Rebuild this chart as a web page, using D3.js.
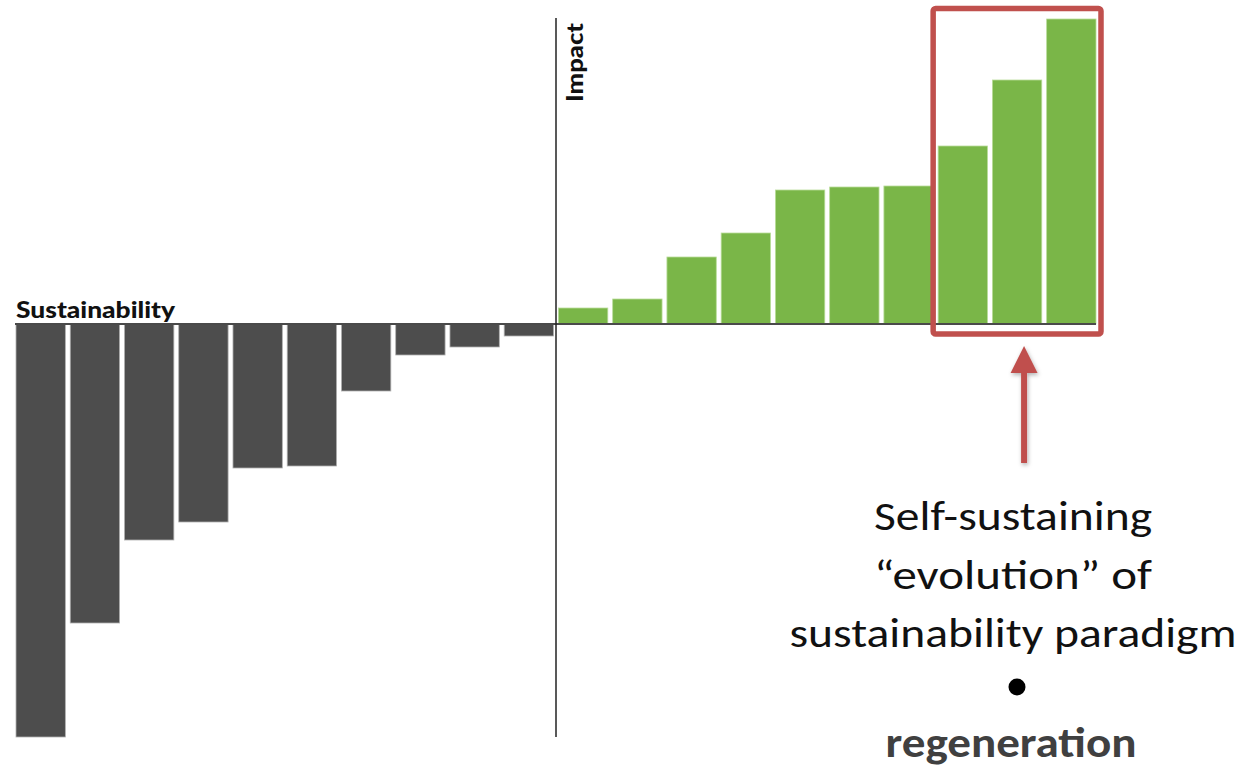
<!DOCTYPE html>
<html>
<head>
<meta charset="utf-8">
<script src="https://cdn.jsdelivr.net/npm/d3@7"></script>
<style>
  html, body { margin: 0; padding: 0; background: #ffffff; }
  svg { display: block; }
</style>
</head>
<body>
<svg id="chart" width="1250" height="768"></svg>
<script>
// ---- data ----
const negCategories = ["S1","S2","S3","S4","S5","S6","S7","S8","S9","S10"];
const negValues = [-41.3, -29.9, -21.6, -19.8, -14.4, -14.2, -6.7, -3.1, -2.3, -1.2];
const posCategories = ["I1","I2","I3","I4","I5","I6","I7","I8","I9","I10"];
const posValues = [1.6, 2.5, 6.7, 9.1, 13.4, 13.7, 13.8, 17.8, 24.4, 30.5];
const highlighted = ["I8","I9","I10"];
const xAxisLabel = "Sustainability";
const yAxisLabel = "Impact";
const noteLines = ["Self-sustaining", "\u201cevolution\u201d of", "sustainability paradigm"];
const noteKeyword = "regeneration";

// ---- chart ----
const svg = d3.select("#chart");
const allCats = negCategories.concat(posCategories);
const allVals = negValues.concat(posValues);

const x = d3.scaleBand().domain(allCats).range([16, 1096]).paddingInner(0.09).paddingOuter(0);
const y = d3.scaleLinear().domain([-41.3, 30.5]).range([737, 19]);

const data = allCats.map((c, i) => ({cat: c, v: allVals[i]}));

svg.append("g").selectAll("rect").data(data).join("rect")
  .attr("x", d => x(d.cat))
  .attr("width", x.bandwidth())
  .attr("y", d => d.v >= 0 ? y(d.v) : y(0))
  .attr("height", d => Math.abs(y(d.v) - y(0)))
  .attr("fill", d => d.v >= 0 ? "#7ab648" : "#4d4d4d")
  .attr("stroke", d => d.v >= 0 ? "#b9dc9a" : "#b0b0b0")
  .attr("stroke-width", 0.8);

// horizontal axis (zero line)
svg.append("line")
  .attr("x1", 15).attr("x2", 1096)
  .attr("y1", y(0)).attr("y2", y(0))
  .attr("stroke", "#4a4a4a").attr("stroke-width", 2);

// vertical axis
const vx = (x(negCategories[9]) + x.bandwidth() + x(posCategories[0])) / 2;
svg.append("line")
  .attr("x1", vx).attr("x2", vx)
  .attr("y1", 18).attr("y2", 737)
  .attr("stroke", "#222").attr("stroke-width", 1.5);

// axis labels
svg.append("text")
  .attr("x", 16).attr("y", y(0) - 6)
  .attr("font-family", "Lato, 'DejaVu Sans', sans-serif")
  .attr("font-weight", 900).attr("font-size", 23)
  .attr("textLength", 159).attr("lengthAdjust", "spacingAndGlyphs")
  .attr("fill", "#111")
  .text(xAxisLabel);

svg.append("text")
  .attr("transform", `translate(${vx + 27},102) rotate(-90)`)
  .attr("font-family", "Lato, 'DejaVu Sans', sans-serif")
  .attr("font-weight", 900).attr("font-size", 23)
  .attr("textLength", 79).attr("lengthAdjust", "spacingAndGlyphs")
  .attr("fill", "#111")
  .text(yAxisLabel);

// highlight box
const hx0 = x(highlighted[0]) - 5;
const hx1 = x(highlighted[highlighted.length - 1]) + x.bandwidth() + 5;
const red = "#c0504d";
svg.append("rect")
  .attr("x", hx0).attr("y", 8.5)
  .attr("width", hx1 - hx0).attr("height", 334 - 8.5)
  .attr("rx", 2.5)
  .attr("fill", "none").attr("stroke", red).attr("stroke-width", 5.5);

// arrow
const defs = svg.append("defs");
const f = defs.append("filter").attr("id", "shadow").attr("x", "-50%").attr("y", "-20%").attr("width", "200%").attr("height", "140%");
f.append("feDropShadow").attr("dx", 1).attr("dy", 2).attr("stdDeviation", 2).attr("flood-color", "#000").attr("flood-opacity", 0.3);

const ax = x(highlighted[1]) + x.bandwidth() / 2 + 7;
const arrow = svg.append("g").attr("filter", "url(#shadow)");
arrow.append("rect")
  .attr("x", ax - 3).attr("y", 370).attr("width", 6).attr("height", 93)
  .attr("fill", red);
arrow.append("path")
  .attr("d", `M${ax},346 L${ax + 13.5},373 L${ax - 13.5},373 Z`)
  .attr("fill", red);

// annotation text
const tcx = 1013;
const lineYs = [530, 589, 647];
const lineWidths = [278, 278, 447];
noteLines.forEach((t, i) => {
  svg.append("text")
    .attr("x", tcx).attr("y", lineYs[i])
    .attr("text-anchor", "middle")
    .attr("font-family", "Carlito, 'Open Sans', 'Liberation Sans', sans-serif")
    .attr("font-size", 42)
    .attr("textLength", lineWidths[i]).attr("lengthAdjust", "spacingAndGlyphs")
    .attr("fill", "#111")
    .text(t);
});
svg.append("circle").attr("cx", 1017).attr("cy", 687).attr("r", 8.5).attr("fill", "#000");
svg.append("text")
  .attr("x", 1011).attr("y", 757)
  .attr("text-anchor", "middle")
  .attr("font-family", "Carlito, 'Open Sans', 'Liberation Sans', sans-serif")
  .attr("font-weight", "bold")
  .attr("font-size", 42)
  .attr("textLength", 251).attr("lengthAdjust", "spacingAndGlyphs")
  .attr("fill", "#404040")
  .text(noteKeyword);
</script>
</body>
</html>
